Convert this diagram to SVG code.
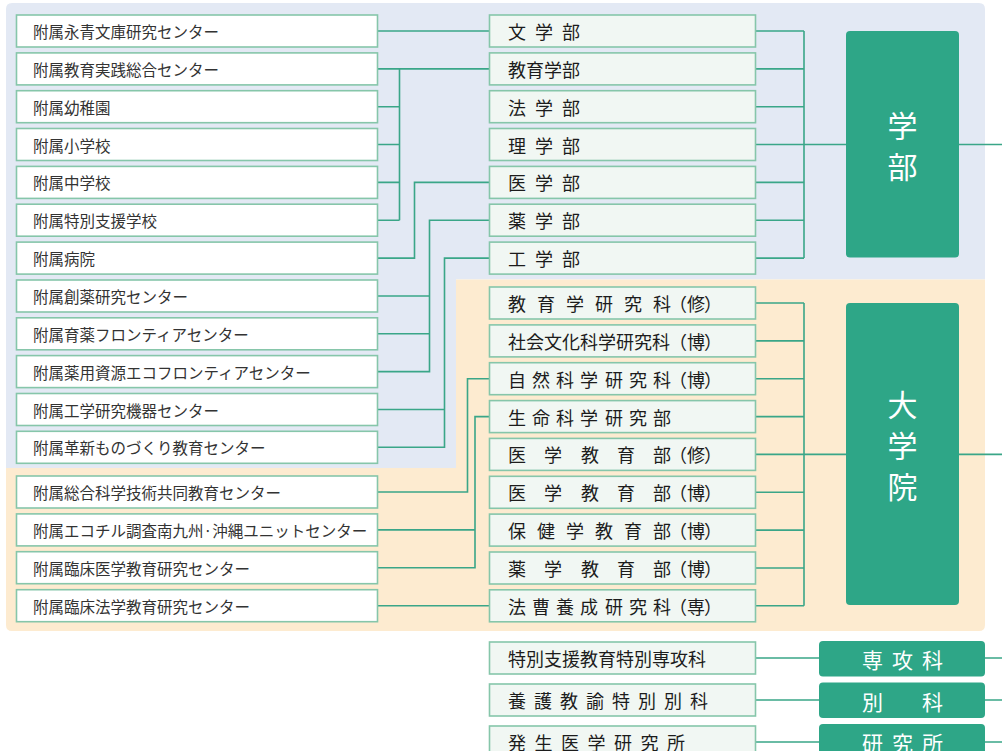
<svg xmlns="http://www.w3.org/2000/svg" width="1002" height="751" viewBox="0 0 1002 751">
<style>
.lb{fill:#ffffff;stroke:#86c6aa;stroke-width:1.6}
.mb{fill:#f1f7f3;stroke:#86c6aa;stroke-width:1.6}
.gb{fill:#2ea687}
.lt{font-family:"Noto Sans CJK JP","Noto Sans",sans-serif;font-size:15.5px;fill:#333333;dominant-baseline:central}
.mt{font-family:"Noto Sans CJK JP","Noto Sans",sans-serif;font-size:18px;fill:#1c1c1c;dominant-baseline:central}
.gt{font-family:"Noto Sans CJK JP","Noto Sans",sans-serif;font-size:30px;fill:#ffffff;dominant-baseline:central;text-anchor:middle}
.st{font-family:"Noto Sans CJK JP","Noto Sans",sans-serif;font-size:21px;fill:#ffffff;dominant-baseline:central}
.cn{fill:none;stroke:#3aa688;stroke-width:1.6}
</style>
<g id="backgrounds">
<path d="M6,9 Q6,3 12,3 H979 Q985,3 985,9 V279.5 H456 V468 H6 Z" fill="#e3e9f4"/>
<path d="M456,279.5 H985 V625 Q985,631 979,631 H12 Q6,631 6,625 V468 H456 Z" fill="#fdebd0"/>
</g>
<g id="connectors" class="cn">
<path d="M377.5,31 H489"/>
<path d="M377.5,68.9 H489 M399.5,68.9 V220.2 M377.5,106.7 H399.5 M377.5,144.5 H399.5 M377.5,182.4 H399.5 M377.5,220.2 H399.5"/>
<path d="M377.5,258.1 H414.5 V182.4 H489"/>
<path d="M377.5,296 H429.5 M377.5,333.8 H429.5 M377.5,371.6 H429.5 V220.2 H489"/>
<path d="M377.5,409.5 H444.5 M377.5,447.3 H444.5 V258.1 H489"/>
<path d="M377.5,492 H467.5 V378.7 H489"/>
<path d="M377.5,529.9 H475 M377.5,567.7 H475 V416.6 H489"/>
<path d="M377.5,605.7 H489"/>
<path d="M756,31 H804 M756,68.9 H804 M756,106.7 H804 M756,144.5 H804 M756,182.4 H804 M756,220.2 H804 M756,258.1 H804 M804,31 V258.1 M804,144.5 H846 M959,144.5 H1002"/>
<path d="M756,303 H804 M756,340.9 H804 M756,378.7 H804 M756,416.6 H804 M756,454.4 H804 M756,492.3 H804 M756,530.1 H804 M756,568 H804 M756,605.8 H804 M804,303 V605.8 M804,454.4 H846 M959,454.4 H1002"/>
<path d="M756,658 H819 M985,658 H1002 M756,700 H819 M985,700 H1002 M756,742 H819 M985,742 H1002"/>
</g>
<g id="l0"><rect class="lb" x="16.5" y="15" width="361" height="32"/><text class="lt" x="33" y="31">附属永青文庫研究センター</text></g>
<g id="l1"><rect class="lb" x="16.5" y="52.9" width="361" height="32"/><text class="lt" x="33" y="68.9">附属教育実践総合センター</text></g>
<g id="l2"><rect class="lb" x="16.5" y="90.7" width="361" height="32"/><text class="lt" x="33" y="106.7">附属幼稚園</text></g>
<g id="l3"><rect class="lb" x="16.5" y="128.5" width="361" height="32"/><text class="lt" x="33" y="144.5">附属小学校</text></g>
<g id="l4"><rect class="lb" x="16.5" y="166.4" width="361" height="32"/><text class="lt" x="33" y="182.4">附属中学校</text></g>
<g id="l5"><rect class="lb" x="16.5" y="204.2" width="361" height="32"/><text class="lt" x="33" y="220.2">附属特別支援学校</text></g>
<g id="l6"><rect class="lb" x="16.5" y="242.1" width="361" height="32"/><text class="lt" x="33" y="258.1">附属病院</text></g>
<g id="l7"><rect class="lb" x="16.5" y="280" width="361" height="32"/><text class="lt" x="33" y="296">附属創薬研究センター</text></g>
<g id="l8"><rect class="lb" x="16.5" y="317.8" width="361" height="32"/><text class="lt" x="33" y="333.8">附属育薬フロンティアセンター</text></g>
<g id="l9"><rect class="lb" x="16.5" y="355.6" width="361" height="32"/><text class="lt" x="33" y="371.6">附属薬用資源エコフロンティアセンター</text></g>
<g id="l10"><rect class="lb" x="16.5" y="393.5" width="361" height="32"/><text class="lt" x="33" y="409.5">附属工学研究機器センター</text></g>
<g id="l11"><rect class="lb" x="16.5" y="431.3" width="361" height="32"/><text class="lt" x="33" y="447.3">附属革新ものづくり教育センター</text></g>
<g id="l12"><rect class="lb" x="16.5" y="476" width="361" height="32"/><text class="lt" x="33" y="492">附属総合科学技術共同教育センター</text></g>
<g id="l13"><rect class="lb" x="16.5" y="513.9" width="361" height="32"/><text class="lt" x="33" y="529.9">附属エコチル調査南九州·沖縄ユニットセンター</text></g>
<g id="l14"><rect class="lb" x="16.5" y="551.7" width="361" height="32"/><text class="lt" x="33" y="567.7">附属臨床医学教育研究センター</text></g>
<g id="l15"><rect class="lb" x="16.5" y="589.7" width="361" height="32"/><text class="lt" x="33" y="605.7">附属臨床法学教育研究センター</text></g>
<g id="m0"><rect class="mb" x="489.5" y="15" width="266" height="32"/><text class="mt" x="508 535 562" y="31">文学部</text></g>
<g id="m1"><rect class="mb" x="489.5" y="52.9" width="266" height="32"/><text class="mt" x="508" y="68.9">教育学部</text></g>
<g id="m2"><rect class="mb" x="489.5" y="90.7" width="266" height="32"/><text class="mt" x="508 535 562" y="106.7">法学部</text></g>
<g id="m3"><rect class="mb" x="489.5" y="128.5" width="266" height="32"/><text class="mt" x="508 535 562" y="144.5">理学部</text></g>
<g id="m4"><rect class="mb" x="489.5" y="166.4" width="266" height="32"/><text class="mt" x="508 535 562" y="182.4">医学部</text></g>
<g id="m5"><rect class="mb" x="489.5" y="204.2" width="266" height="32"/><text class="mt" x="508 535 562" y="220.2">薬学部</text></g>
<g id="m6"><rect class="mb" x="489.5" y="242.1" width="266" height="32"/><text class="mt" x="508 535 562" y="258.1">工学部</text></g>
<g id="g0"><rect class="mb" x="489.5" y="287" width="266" height="32"/><text class="mt" x="508 537 566 595 624 653 669 687 704" y="303">教育学研究科（修）</text></g>
<g id="g1"><rect class="mb" x="489.5" y="324.9" width="266" height="32"/><text class="mt" x="508 526 544 562 580 598 616 634 652 669 687 704" y="340.9">社会文化科学研究科（博）</text></g>
<g id="g2"><rect class="mb" x="489.5" y="362.7" width="266" height="32"/><text class="mt" x="508 532 556 580 605 629 653 669 687 704" y="378.7">自然科学研究科（博）</text></g>
<g id="g3"><rect class="mb" x="489.5" y="400.6" width="266" height="32"/><text class="mt" x="508 532 556 580 605 629 653" y="416.6">生命科学研究部</text></g>
<g id="g4"><rect class="mb" x="489.5" y="438.4" width="266" height="32"/><text class="mt" x="508 544 581 617 653 669 687 704" y="454.4">医学教育部（修）</text></g>
<g id="g5"><rect class="mb" x="489.5" y="476.3" width="266" height="32"/><text class="mt" x="508 544 581 617 653 669 687 704" y="492.3">医学教育部（博）</text></g>
<g id="g6"><rect class="mb" x="489.5" y="514.1" width="266" height="32"/><text class="mt" x="508 537 566 595 624 653 669 687 704" y="530.1">保健学教育部（博）</text></g>
<g id="g7"><rect class="mb" x="489.5" y="552" width="266" height="32"/><text class="mt" x="508 544 581 617 653 669 687 704" y="568">薬学教育部（博）</text></g>
<g id="g8"><rect class="mb" x="489.5" y="589.8" width="266" height="32"/><text class="mt" x="508 532 556 580 605 629 653 669 687 704" y="605.8">法曹養成研究科（専）</text></g>
<g id="b0"><rect class="mb" x="489.5" y="642" width="266" height="32"/><text class="mt" x="508" y="658">特別支援教育特別専攻科</text></g>
<g id="b1"><rect class="mb" x="489.5" y="684" width="266" height="32"/><text class="mt" x="508 534 560 586 612 638 664 690" y="700">養護教諭特別別科</text></g>
<g id="b2"><rect class="mb" x="489.5" y="726" width="266" height="32"/><text class="mt" x="508 534.5 561 587.5 614 640.5 667" y="742">発生医学研究所</text></g>
<g id="gakubu"><rect class="gb" x="846" y="31" width="113" height="226.5" rx="4"/><text class="gt" x="902.5" y="124">学</text><text class="gt" x="902.5" y="165">部</text></g>
<g id="daigakuin"><rect class="gb" x="846" y="303" width="113" height="302" rx="4"/><text class="gt" x="902.5" y="403">大</text><text class="gt" x="902.5" y="444">学</text><text class="gt" x="902.5" y="485">院</text></g>
<g id="senkoka"><rect class="gb" x="819" y="641" width="166" height="35.5" rx="4"/><text class="st" x="862 892 922" y="659">専攻科</text></g>
<g id="betsuka"><rect class="gb" x="819" y="682.5" width="166" height="35.5" rx="4"/><text class="st" x="862 922" y="700.5">別科</text></g>
<g id="kenkyujo"><rect class="gb" x="819" y="724" width="166" height="35.5" rx="4"/><text class="st" x="862 892 922" y="742">研究所</text></g>
</svg>
